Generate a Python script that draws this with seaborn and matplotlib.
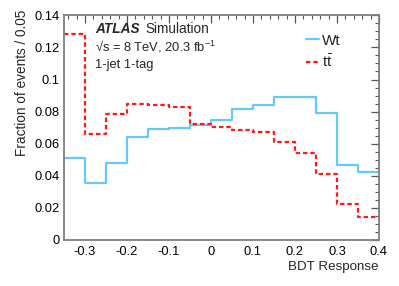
import matplotlib
matplotlib.use("Agg")
import matplotlib.pyplot as plt
import matplotlib.ticker as mticker
import numpy as np
import pandas as pd
import seaborn as sns
from matplotlib.lines import Line2D

# ---- data ----
bin_edges = [-0.35, -0.30, -0.25, -0.20, -0.15, -0.10, -0.05, 0.00,
             0.05, 0.10, 0.15, 0.20, 0.25, 0.30, 0.35, 0.40]
wt_values = [0.051, 0.0356, 0.0477, 0.0644, 0.069, 0.0698, 0.0715,
             0.0748, 0.0815, 0.0844, 0.0888, 0.0894, 0.0792, 0.0469, 0.0425]
tt_values = [0.1285, 0.0661, 0.0784, 0.0847, 0.0843, 0.0826, 0.0722,
             0.0705, 0.0684, 0.0676, 0.0611, 0.0543, 0.0414, 0.0223, 0.0146]
x_ticks = [-0.3, -0.2, -0.1, 0, 0.1, 0.2, 0.3, 0.4]
y_ticks = [0, 0.02, 0.04, 0.06, 0.08, 0.1, 0.12, 0.14]

sns.set_theme(style="white")
plt.rcParams['font.family'] = ['Liberation Sans', 'DejaVu Sans']
plt.rcParams['mathtext.fontset'] = 'custom'
plt.rcParams['mathtext.rm'] = 'Liberation Sans'
plt.rcParams['mathtext.it'] = 'Liberation Sans:italic'
plt.rcParams['axes.unicode_minus'] = False

centers = [(bin_edges[i] + bin_edges[i + 1]) / 2 for i in range(len(bin_edges) - 1)]
df = pd.DataFrame({
    "x": centers * 2,
    "w": wt_values + tt_values,
    "s": ["Wt"] * len(centers) + ["tt"] * len(centers),
})

fig = plt.figure(figsize=(3.99, 2.86), dpi=100)
ax = fig.add_axes([64 / 399, 1 - 240 / 286, 315 / 399, (240 - 15.3) / 286])

blue = "#66c8ff"
red = "#ff1a1a"
dash = (0, (2.0, 1.3))
sns.histplot(data=df[df.s == "Wt"], x="x", weights="w", bins=bin_edges,
             element="step", fill=False, color=blue, linewidth=1.6, ax=ax)
sns.histplot(data=df[df.s == "tt"], x="x", weights="w", bins=bin_edges,
             element="step", fill=False, color=red, linewidth=1.6,
             linestyle=dash, ax=ax)

ax.set_xlim(-0.35, 0.4)
ax.set_ylim(0, 0.14)
ax.set_xticks(x_ticks)
ax.set_yticks(y_ticks)
ax.xaxis.set_minor_locator(mticker.MultipleLocator(0.02))
ax.yaxis.set_minor_locator(mticker.MultipleLocator(0.005))
ax.xaxis.set_major_formatter(mticker.FuncFormatter(lambda v, p: "%g" % round(v, 3)))
ax.yaxis.set_major_formatter(mticker.FuncFormatter(lambda v, p: "%g" % round(v, 3)))
ax.tick_params(which="both", direction="in", top=True, right=True,
               colors="#555555", labelcolor="black", labelsize=9.3)
ax.tick_params(which="major", length=6, width=0.9)
ax.tick_params(which="minor", length=3, width=0.8)
ax.tick_params(axis="x", pad=4)
ax.tick_params(axis="y", pad=3)
for sp in ax.spines.values():
    sp.set_color("#808080")
    sp.set_linewidth(1.3)

ax.set_xlabel("")
ax.set_ylabel("")
fig.text(378 / 399, 1 - 267 / 286, "BDT Response", ha="right", va="center", fontsize=9.6)
fig.text(22 / 399, 1 - 10 / 286, "Fraction of events / 0.05", rotation=90,
         ha="center", va="top", fontsize=9.8)

# annotations
fig.text(95 / 399, 1 - 29 / 286, "ATLAS", fontsize=9.8, fontweight="bold",
         fontstyle="italic", ha="left", va="center")
fig.text(145 / 399, 1 - 29 / 286, "Simulation", fontsize=9.8, ha="left", va="center")
fig.text(95 / 399, 1 - 47 / 286, "\u221as = 8 TeV, 20.3 fb$^{-1}$", fontsize=9.3,
         ha="left", va="center")
fig.text(95 / 399, 1 - 65 / 286, "1-jet 1-tag", fontsize=9.3, ha="left", va="center")

# legend
h1 = Line2D([], [], color=blue, linewidth=1.6)
h2 = Line2D([], [], color=red, linewidth=1.6, linestyle=dash)
leg = ax.legend([h1, h2], ["Wt", r"$\mathrm{t\bar{t}}$"], loc="upper left",
                bbox_to_anchor=(298 / 399, 1 - 26 / 286), bbox_transform=fig.transFigure,
                frameon=False, fontsize=11, handlelength=0.85, handletextpad=0.2,
                labelspacing=0.35, borderpad=0)

fig.savefig("out.png", dpi=100)
